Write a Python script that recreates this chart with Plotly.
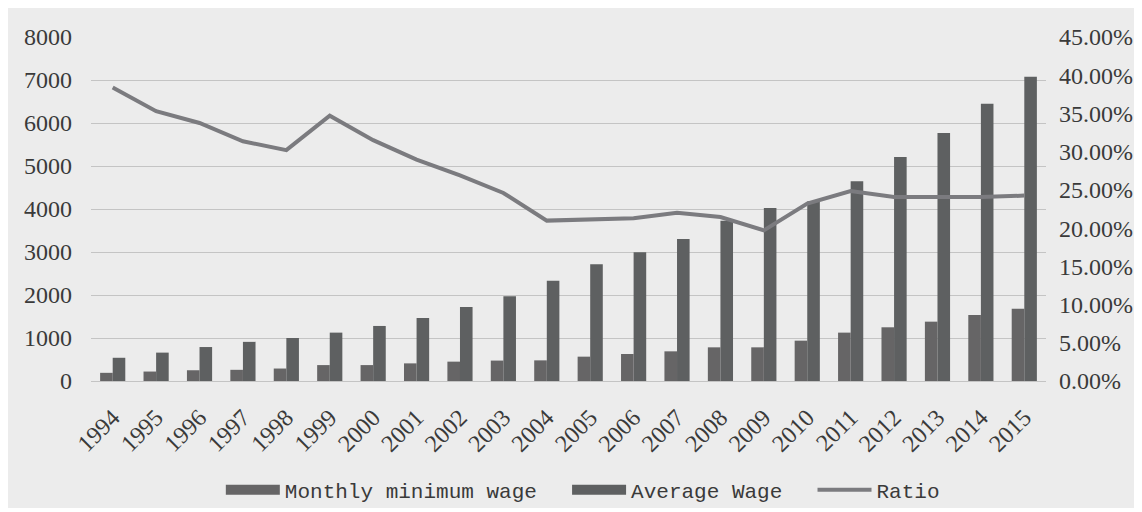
import plotly.graph_objects as go

years = [str(y) for y in range(1994, 2016)]
min_wage = [190, 220, 250, 260, 290, 370, 370, 410, 450, 475, 480, 566, 628, 690, 783, 783,
            938, 1125, 1249, 1380, 1535, 1683]
avg_wage = [540, 660, 790, 910, 1000, 1125, 1280, 1465, 1721, 1969, 2334, 2713, 2992, 3302,
            3729, 4023, 4178, 4643, 5209, 5767, 6450, 7078]
ratio = [0.384, 0.353, 0.3375, 0.3136, 0.302, 0.347, 0.315, 0.2896, 0.269, 0.246, 0.2098,
         0.2115, 0.213, 0.220, 0.2145, 0.197, 0.232, 0.2486, 0.2407, 0.2407, 0.2407, 0.2425]

left_ticks = list(range(0, 8001, 1000))
right_ticks = [i * 0.05 for i in range(10)]
right_labels = ["%.2f%%" % (v * 100) for v in right_ticks]

MIN_COLOR = "#666566"
AVG_COLOR = "#5e6061"
LINE_COLOR = "#7b7b7f"

tick_font = dict(family="Liberation Serif", size=24, color="#3a3a3a")
GAP = "\u00a0\u00a0"

fig = go.Figure()
fig.add_trace(go.Bar(x=years, y=min_wage, name="Monthly minimum wage", showlegend=False,
                     marker=dict(color=MIN_COLOR, line=dict(width=0))))
fig.add_trace(go.Bar(x=years, y=avg_wage, name="Average Wage", showlegend=False,
                     marker=dict(color=AVG_COLOR, line=dict(width=0))))
fig.add_trace(go.Scatter(x=years, y=ratio, name="Ratio", mode="lines", yaxis="y2",
                         showlegend=False, line=dict(color=LINE_COLOR, width=4)))

# legend entries (wide block swatches like the original)
fig.add_trace(go.Scatter(x=[None], y=[None], mode="lines", name="Monthly minimum wage" + GAP,
                         line=dict(color=MIN_COLOR, width=13)))
fig.add_trace(go.Scatter(x=[None], y=[None], mode="lines", name="Average Wage" + GAP,
                         line=dict(color=AVG_COLOR, width=13)))
fig.add_trace(go.Scatter(x=[None], y=[None], mode="lines", name="Ratio",
                         line=dict(color=LINE_COLOR, width=4)))

fig.update_layout(
    width=1134, height=500,
    margin=dict(l=83, r=96, t=29, b=127, autoexpand=False),
    paper_bgcolor="#ececec", plot_bgcolor="#ececec",
    barmode="group", bargap=0.42, bargroupgap=0,
    showlegend=True,
    legend=dict(orientation="h", x=0.515, xanchor="center",
                yref="container", y=0.036, yanchor="middle",
                font=dict(family="Liberation Mono", size=21, color="#3a3a3a"),
                bgcolor="rgba(0,0,0,0)", itemwidth=54, tracegroupgap=0),
    xaxis=dict(type="category", tickangle=-45, automargin=False,
               tickfont=dict(family="Liberation Serif", size=24, color="#3a3a3a"),
               showgrid=False, showline=True, linecolor="#c4c4c4", linewidth=1, ticks="",
               ticklabelstandoff=12),
    yaxis=dict(range=[0, 8000], tickvals=left_ticks, tickfont=tick_font, automargin=False,
               showgrid=True, gridcolor="#c4c4c4", gridwidth=1, zeroline=False,
               ticks="", ticklen=0, ticklabelstandoff=18),
    yaxis2=dict(range=[0, 0.45], tickvals=right_ticks, ticktext=right_labels, automargin=False,
                overlaying="y", side="right", showgrid=False, zeroline=False,
                tickfont=tick_font, ticks="", ticklabelstandoff=12),
)

fig.write_html("out.html")
